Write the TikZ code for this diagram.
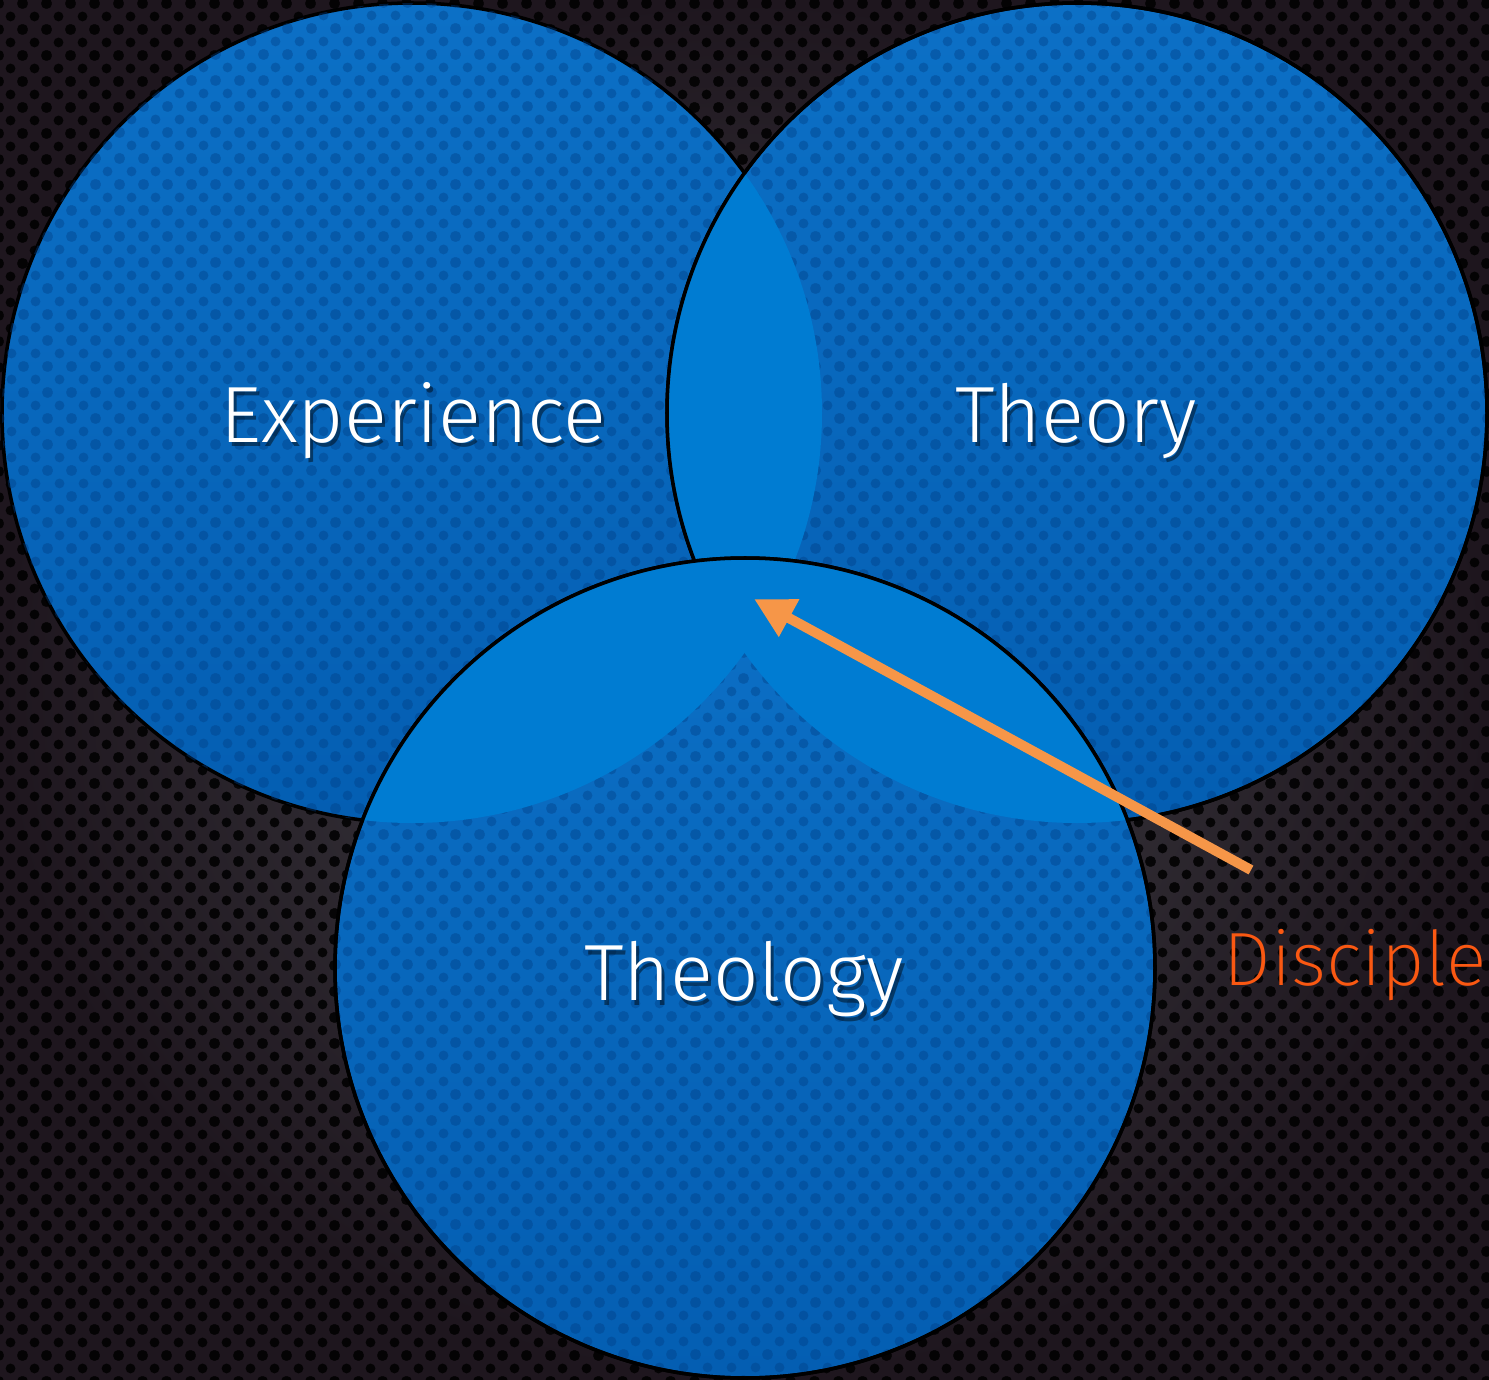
\documentclass[tikz,border=0pt]{standalone}
\usepackage{fontspec}
\usetikzlibrary{arrows.meta,patterns}
\newfontfamily\labelfont{Fira Sans Light}
\newfontfamily\notefont{Fira Sans ExtraLight}

\definecolor{bginner}{RGB}{66,66,72}
\definecolor{bgouter}{RGB}{30,22,30}
\definecolor{venntop}{RGB}{12,112,198}
\definecolor{vennbottom}{RGB}{4,94,178}
\definecolor{venndots}{RGB}{0,62,132}
\definecolor{lens}{RGB}{0,124,210}
\definecolor{arroworange}{RGB}{246,150,72}
\definecolor{discipleorange}{RGB}{250,88,18}

% honeycomb of small holes, used on the backdrop and on the discs
\pgfdeclarepatternformonly{hexholes}{\pgfqpoint{0pt}{0pt}}{\pgfqpoint{6.83pt}{7.40pt}}{\pgfqpoint{6.83pt}{7.40pt}}{
  \pgfpathcircle{\pgfqpoint{0pt}{0pt}}{1.45pt}
  \pgfpathcircle{\pgfqpoint{6.83pt}{0pt}}{1.45pt}
  \pgfpathcircle{\pgfqpoint{0pt}{7.40pt}}{1.45pt}
  \pgfpathcircle{\pgfqpoint{6.83pt}{7.40pt}}{1.45pt}
  \pgfpathcircle{\pgfqpoint{3.415pt}{3.70pt}}{1.45pt}
  \pgfusepath{fill}
}

\begin{document}
\begin{tikzpicture}[>=Stealth, node distance=6.65cm]
                \tikzstyle{venn}=[circle, draw=black, line width=1pt, minimum size=8.2cm, inner sep=0pt,
                    top color=venntop, bottom color=vennbottom,
                    postaction={pattern=hexholes, pattern color=venndots, fill opacity=0.4}]
                \tikzstyle{lbl}=[font=\labelfont\fontsize{22.7}{27}\selectfont, inner sep=0pt, anchor=base]
                \tikzstyle{lblshadow}=[lbl, text=black, opacity=0.45]

                \useasboundingbox (0,0) rectangle (14.89,-13.80);
                \shade[inner color=bginner, outer color=bgouter] (0,0) rectangle (14.89,-13.80);
                \fill[pattern=hexholes, pattern color=black, fill opacity=0.85] (0,0) rectangle (14.89,-13.80);

                % left and right discs
                \node[venn] (exp) at (4.12,-4.13) {};
                \node[venn] (thy) [right of=exp] {};
                \begin{scope}
                    \clip (exp.center) circle (4.1cm);
                    \fill[lens] (thy.center) circle (4.1cm);
                \end{scope}
                \draw[line width=1pt] (thy.center) circle (4.1cm);

                % lower disc on top
                \node[venn] (thl) at (7.45,-9.68) {};
                \begin{scope}
                    \clip (thl.center) circle (4.1cm);
                    \fill[lens] (exp.center) circle (4.1cm);
                    \fill[lens] (thy.center) circle (4.1cm);
                \end{scope}
                \draw[line width=1pt] (thl.center) circle (4.1cm);

                % drop shadow under each label
                \node[lblshadow] (expshadow) at (4.165,-4.47) {Experience};
                \node[lblshadow] (thyshadow) at (10.79,-4.47) {Theory};
                \node[lblshadow] (thlshadow) at (7.47,-10.05) {Theology};
                \node[lbl, text=white] (explabel) at (4.135,-4.42) {Experience};
                \node[lbl, text=white] (thylabel) at (10.76,-4.42) {Theory};
                \node[lbl, text=white] (thllabel) at (7.44,-10.00) {Theology};

                \coordinate (arrowtail) at (12.51,-8.70);
                \coordinate (arrowtip) at (7.54,-5.99);
                \draw[arroworange, line width=0.1cm, -{Triangle[length=0.4cm, width=0.4cm]}] (arrowtail) -- (arrowtip);

                \node[font=\notefont\fontsize{21.5}{26}\selectfont, text=discipleorange, anchor=base east, inner sep=0pt] (disciple) at (14.87,-9.85) {Disciple};
            \end{tikzpicture}
\end{document}
